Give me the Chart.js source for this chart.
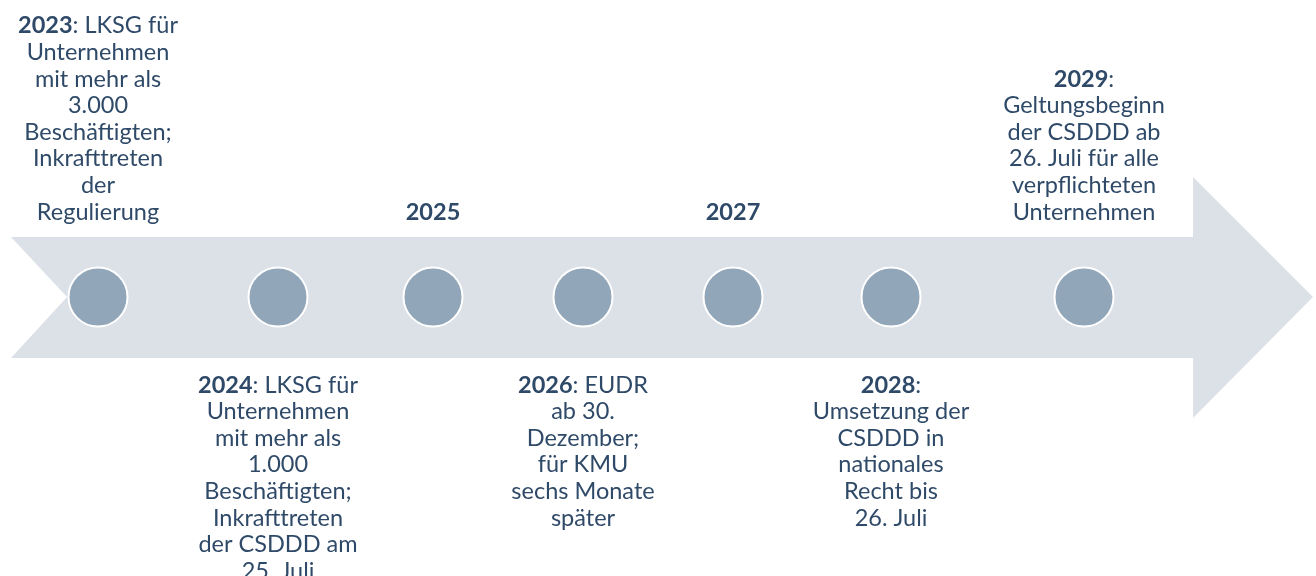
<!DOCTYPE html>
<html lang="de">
<head>
<meta charset="utf-8">
<title>Zeitleiste LKSG / EUDR / CSDDD</title>
<script src="https://cdn.jsdelivr.net/npm/chart.js@4.4.1/dist/chart.umd.min.js"></script>
<style>
  html, body { margin: 0; padding: 0; background: #ffffff; }
  #wrap { width: 1316px; height: 576px; }
</style>
</head>
<body>
<div id="wrap"><canvas id="timeline" width="1316" height="576"></canvas></div>
<script>
  // Meilensteine (Jahr, Lage auf der Zeitleiste, Beschriftung oben/unten)
  const years = ['2023', '2024', '2025', '2026', '2027', '2028', '2029'];
  const milestoneX = [98, 278, 433, 583, 733, 891, 1084];
  const milestoneY = [297, 297, 297, 297, 297, 297, 297];
  const labelSide = ['above', 'below', 'above', 'below', 'above', 'below', 'above'];
  const labelRest = [
    [': LKSG für', 'Unternehmen', 'mit mehr als', '3.000', 'Beschäftigten;', 'Inkrafttreten', 'der', 'Regulierung'],
    [': LKSG für', 'Unternehmen', 'mit mehr als', '1.000', 'Beschäftigten;', 'Inkrafttreten', 'der CSDDD am', '25. Juli'],
    [''],
    [': EUDR', 'ab 30.', 'Dezember;', 'für KMU', 'sechs Monate', 'später'],
    [''],
    [':', 'Umsetzung der', 'CSDDD in', 'nationales', 'Recht bis', '26. Juli'],
    [':', 'Geltungsbeginn', 'der CSDDD ab', '26. Juli für alle', 'verpflichteten', 'Unternehmen']
  ];

  // Pfeil (Umriss)
  const arrowX = [11, 1193, 1193, 1313, 1193, 1193, 11, 67, 11];
  const arrowY = [237, 237, 177, 297, 418, 358, 358, 297, 237];

  const textColor = '#2f4a68';
  const fontFamily = 'Lato, "Open Sans", sans-serif';
  const fontSize = 23.5;
  const lineH = 26.6;
  const aboveLastLine = 212;   // Mitte der letzten Zeile oberhalb
  const belowFirstLine = 385;  // Mitte der ersten Zeile unterhalb

  const arrowData = arrowX.map((x, i) => ({ x: x, y: arrowY[i] }));
  const pointData = milestoneX.map((x, i) => ({ x: x, y: milestoneY[i], year: years[i] }));

  const labelPlugin = {
    id: 'labels',
    afterDatasetsDraw(chart) {
      const ctx = chart.ctx;
      const xs = chart.scales.x, ys = chart.scales.y;
      const bold = 'bold ' + fontSize + 'px ' + fontFamily;
      const norm = fontSize + 'px ' + fontFamily;
      ctx.save();
      ctx.fillStyle = textColor;
      ctx.textBaseline = 'middle';
      ctx.textAlign = 'left';
      for (let i = 0; i < years.length; i++) {
        const cx = xs.getPixelForValue(milestoneX[i]);
        const lines = labelRest[i];
        let y0;
        if (labelSide[i] === 'above') {
          y0 = ys.getPixelForValue(aboveLastLine) - (lines.length - 1) * lineH;
        } else {
          y0 = ys.getPixelForValue(belowFirstLine);
        }
        for (let j = 0; j < lines.length; j++) {
          const y = y0 + j * lineH;
          if (j === 0) {
            ctx.font = bold;
            const wb = ctx.measureText(years[i]).width;
            ctx.font = norm;
            const wn = ctx.measureText(lines[0]).width;
            let x = cx - (wb + wn) / 2;
            ctx.font = bold;
            ctx.fillText(years[i], x, y);
            ctx.font = norm;
            ctx.fillText(lines[0], x + wb, y);
          } else {
            ctx.font = norm;
            const w = ctx.measureText(lines[j]).width;
            ctx.fillText(lines[j], cx - w / 2, y);
          }
        }
      }
      ctx.restore();
    }
  };

  new Chart(document.getElementById('timeline'), {
    type: 'scatter',
    data: {
      datasets: [
        {
          label: 'Meilensteine',
          data: pointData,
          pointRadius: 29.5,
          pointHoverRadius: 29.5,
          pointBackgroundColor: '#91a6b9',
          pointBorderColor: '#ffffff',
          pointBorderWidth: 2,
          pointHoverBorderWidth: 2,
          showLine: false,
          clip: false,
          order: 1
        },
        {
          label: 'Pfeil',
          data: arrowData,
          showLine: true,
          fill: 'shape',
          backgroundColor: '#dce1e8',
          borderColor: '#dce1e8',
          borderWidth: 0,
          pointRadius: 0,
          pointHoverRadius: 0,
          tension: 0,
          clip: false,
          order: 2
        }
      ]
    },
    options: {
      responsive: false,
      animation: false,
      events: [],
      layout: { padding: 0, autoPadding: false },
      plugins: {
        legend: { display: false },
        tooltip: { enabled: false },
        filler: { propagate: false }
      },
      scales: {
        x: { type: 'linear', min: 0, max: 1316, display: false },
        y: { type: 'linear', min: 0, max: 576, reverse: true, display: false }
      }
    },
    plugins: [labelPlugin]
  });
</script>
</body>
</html>
